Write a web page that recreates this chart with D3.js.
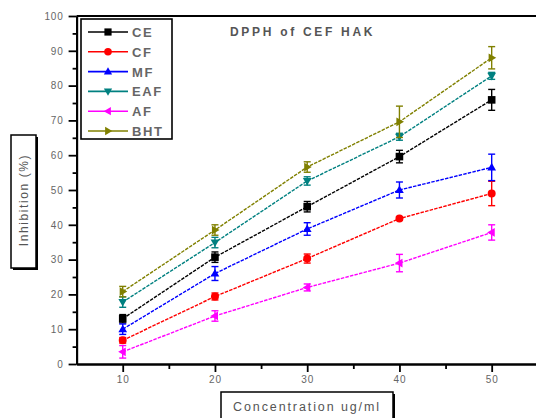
<!DOCTYPE html>
<html><head><meta charset="utf-8">
<script src="https://cdn.jsdelivr.net/npm/d3@7"></script>
<style>html,body{margin:0;padding:0;background:#fff;}svg{display:block;}</style>
</head><body>
<svg id="c" width="536" height="418"></svg>
<script>
const concentrations = [10, 20, 30, 40, 50];
const seriesNames = ["CE", "CF", "MF", "EAF", "AF", "BHT"];
const valCE  = [13.0, 30.7, 45.2, 59.6, 75.9];
const valCF  = [6.8, 19.4, 30.3, 41.8, 49.0];
const valMF  = [10.0, 26.0, 38.8, 50.0, 56.5];
const valEAF = [17.8, 34.9, 52.6, 65.3, 82.8];
const valAF  = [3.5, 13.8, 22.0, 29.0, 37.8];
const valBHT = [20.8, 38.5, 56.6, 69.6, 88.0];
const errCE  = [1.2, 1.5, 1.5, 1.8, 3.0];
const errCF  = [0.8, 1.0, 1.3, 0.5, 3.5];
const errMF  = [1.5, 2.0, 1.8, 2.3, 3.8];
const errEAF = [1.5, 1.5, 1.2, 1.0, 1.0];
const errAF  = [1.8, 1.5, 1.0, 2.5, 2.2];
const errBHT = [1.5, 1.5, 1.5, 4.5, 3.2];
const yTicks = [0,10,20,30,40,50,60,70,80,90,100];
const xTicks = [10,20,30,40,50];
const titleText = "DPPH of CEF HAK";
const xLabel = "Concentration ug/ml";
const yLabel = "Inhibition (%)";

const colors = ["#000000", "#ff0000", "#0000ff", "#008080", "#ff00ff", "#808000"];
const symbols = ["square", "circle", "up", "down", "left", "right"];
const values = [valCE, valCF, valMF, valEAF, valAF, valBHT];
const errors = [errCE, errCF, errMF, errEAF, errAF, errBHT];

const svg = d3.select("#c");
const x = d3.scaleLinear().domain([5, 55]).range([76.6, 537.8]);
const y = d3.scaleLinear().domain([0, 100]).range([364, 16]);
const font = "Arial, 'Liberation Sans', sans-serif";

function markerPath(type, s) {
  switch (type) {
    case "square": return `M${-s},${-s}H${s}V${s}H${-s}Z`;
    case "circle": return d3.symbol(d3.symbolCircle, Math.PI*s*s*1.1)();
    case "up": return `M0,${-s*1.2}L${s*1.15},${s*0.8}L${-s*1.15},${s*0.8}Z`;
    case "down": return `M0,${s*1.2}L${s*1.15},${-s*0.8}L${-s*1.15},${-s*0.8}Z`;
    case "left": return `M${-s*1.2},0L${s*0.8},${-s*1.15}L${s*0.8},${s*1.15}Z`;
    case "right": return `M${s*1.2},0L${-s*0.8},${-s*1.15}L${-s*0.8},${s*1.15}Z`;
  }
}

// axes
const yAxis = d3.axisLeft(y).tickValues(yTicks).tickSize(8).tickSizeOuter(0).tickPadding(5);
const yMinor = d3.axisLeft(y).tickValues(d3.range(5, 100, 10)).tickSize(4).tickSizeOuter(0).tickFormat("");
const xAxis = d3.axisBottom(x).tickValues(xTicks).tickSize(8).tickSizeOuter(0).tickPadding(4);
const xMinor = d3.axisBottom(x).tickValues([15,25,35,45]).tickSize(5).tickSizeOuter(0).tickFormat("");

function styleAxis(g) {
  g.select(".domain").attr("stroke", "#000").attr("stroke-width", 2);
  g.selectAll(".tick line").attr("stroke", "#000").attr("stroke-width", 1.8);
  g.selectAll(".tick text").attr("fill", "#666").style("font-family", font).style("font-size", "10px")
    .style("letter-spacing", "0.8px");
}
svg.append("g").attr("transform", `translate(${x(5)},0)`).call(yAxis).call(styleAxis);
svg.append("g").attr("transform", `translate(${x(5)},0)`).call(yMinor).call(styleAxis);
svg.append("g").attr("transform", `translate(0,${y(0)})`).call(xAxis).call(styleAxis);
svg.append("g").attr("transform", `translate(0,${y(0)})`).call(xMinor).call(styleAxis);
// top frame line
svg.append("line").attr("x1", x(5)).attr("x2", 536).attr("y1", y(100)).attr("y2", y(100))
  .attr("stroke", "#000").attr("stroke-width", 2);

// series
const line = d3.line().x((d, i) => x(concentrations[i])).y(d => y(d));
values.forEach((vals, si) => {
  const g = svg.append("g");
  g.append("path").attr("d", line(vals)).attr("fill", "none").attr("stroke", colors[si])
    .attr("stroke-width", 1.4).attr("stroke-dasharray", "3.5,1.2");
  vals.forEach((v, i) => {
    const cx = x(concentrations[i]);
    const e = errors[si][i];
    g.append("line").attr("x1", cx).attr("x2", cx).attr("y1", y(v + e)).attr("y2", y(v - e))
      .attr("stroke", colors[si]).attr("stroke-width", 1.4);
    [v + e, v - e].forEach(ev => {
      g.append("line").attr("x1", cx - 3.5).attr("x2", cx + 3.5).attr("y1", y(ev)).attr("y2", y(ev))
        .attr("stroke", colors[si]).attr("stroke-width", 1.4);
    });
    g.append("path").attr("d", markerPath(symbols[si], 3.8)).attr("transform", `translate(${cx},${y(v)})`)
      .attr("fill", colors[si]);
  });
});

// title
svg.append("text").attr("x", 230).attr("y", 36).text(titleText)
  .style("font-family", font).style("font-size", "12px").style("font-weight", "bold")
  .style("letter-spacing", "2.7px").attr("fill", "#555");

// legend
const lg = svg.append("g");
lg.append("rect").attr("x", 81).attr("y", 19).attr("width", 91).attr("height", 120)
  .attr("fill", "#fff").attr("stroke", "#000").attr("stroke-width", 1.6);
seriesNames.forEach((n, i) => {
  const ly = 32 + i * 19.8;
  lg.append("line").attr("x1", 88).attr("x2", 128).attr("y1", ly).attr("y2", ly)
    .attr("stroke", colors[i]).attr("stroke-width", 1.6);
  lg.append("path").attr("d", markerPath(symbols[i], 3.6)).attr("transform", `translate(108,${ly})`)
    .attr("fill", colors[i]);
  lg.append("text").attr("x", 132).attr("y", ly + 5).text(n)
    .style("font-family", font).style("font-size", "13px").style("font-weight", "bold")
    .style("letter-spacing", "1.6px").attr("fill", "#666");
});

// y label box
svg.append("rect").attr("x", 13).attr("y", 137).attr("width", 25).attr("height", 133).attr("fill", "#000");
svg.append("rect").attr("x", 11).attr("y", 135).attr("width", 25).attr("height", 133)
  .attr("fill", "#fff").attr("stroke", "#000").attr("stroke-width", 1.5);
svg.append("text").attr("transform", "translate(27.5,200) rotate(-90)").attr("text-anchor", "middle")
  .text(yLabel).style("font-family", font).style("font-size", "12px").style("letter-spacing", "1.6px").attr("fill", "#555");

// x label box
svg.append("rect").attr("x", 223).attr("y", 394).attr("width", 172).attr("height", 30).attr("fill", "#000");
svg.append("rect").attr("x", 221).attr("y", 392).attr("width", 172).attr("height", 30)
  .attr("fill", "#fff").attr("stroke", "#000").attr("stroke-width", 1.5);
svg.append("text").attr("x", 307).attr("y", 411).attr("text-anchor", "middle").text(xLabel)
  .style("font-family", font).style("font-size", "12.5px").style("letter-spacing", "1.9px").attr("fill", "#555");
</script>
</body></html>
